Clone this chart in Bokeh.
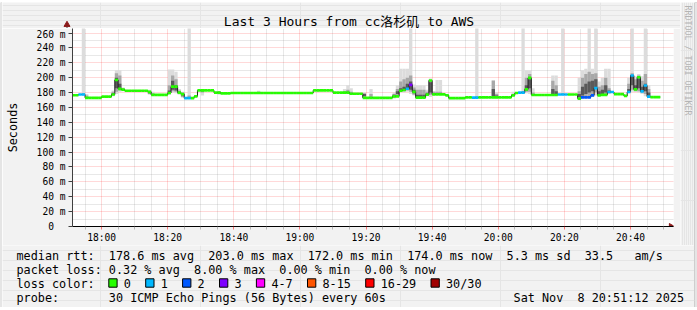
import numpy as np
from bokeh.plotting import figure
from bokeh.layouts import column, row
from bokeh.models import Range1d, FixedTicker, ColumnDataSource
from bokeh.core.properties import value
from bokeh.embed import file_html
from bokeh.resources import INLINE

# ---------------- data ----------------
# one sample per minute, time of sample in minutes after 18:00 (17:52 ... 20:49)
sample_minute = list(range(-8, 170))

median_ms = [
    176.5, 176.5, 177.5, 177.5, 173, 173, 173, 173, 173, 174.5,
    174.5, 174.5, 177.5, 197, 185, 184, 182.5, 182.5, 182.5, 182.5,
    182.5, 182.5, 182.5, 181, 177, 177, 177, 177, 177, 179.5,
    188, 188, 180, 178, 172.5, 172.5, 172.5, 175, 183, 183,
    183, 183, 183, 180, 180, 179, 179, 179, 179.5, 179.5,
    179.5, 179.5, 179.5, 179.5, 179.5, 179.5, 179.5, 179.5, 179.5, 179.5,
    179.5, 179.5, 179.5, 179.5, 179.5, 179.5, 179.5, 179.5, 179.5, 179.5,
    179.5, 179.5, 179.5, 183, 183, 183, 183, 183, 183, 180,
    180, 180, 180, 180, 178.5, 178.5, 178.5, 178.5, 173, 173,
    173, 173, 173, 173, 173, 173, 173, 175, 175, 182.5,
    183.5, 185.2, 190.5, 181, 173.2, 173.2, 173.2, 177.2, 196.3, 177.7,
    177.7, 177.7, 177.7, 176.4, 172.5, 172.5, 172.5, 172.5, 172.5, 173.5,
    173.5, 173.2, 173.2, 173.5, 173.5, 173.5, 173.5, 173.5, 173.5, 173.5,
    173.5, 173.5, 173.5, 176.4, 179.5, 180, 180, 184.3, 199.8, 176.8,
    176.8, 176.8, 176.8, 176.8, 176.8, 176.8, 176.8, 177.5, 177.5, 177.5,
    177.5, 177.5, 177.5, 172, 173.7, 173.7, 173.7, 176.4, 186, 176.4,
    177, 177, 180.8, 180.8, 178, 178, 178, 175.5, 180.8, 203,
    184.3, 200.7, 181.7, 189.6, 174.6, 174, 174, 174,
]

loss_count = [
    0, 0, 1, 1, 0, 0, 0, 0, 0, 0,
    0, 0, 0, 0, 0, 0, 0, 0, 0, 0,
    0, 0, 0, 0, 0, 0, 0, 0, 0, 0,
    0, 0, 0, 0, 1, 1, 0, 0, 0, 0,
    0, 0, 0, 0, 0, 0, 0, 0, 0, 0,
    0, 0, 0, 0, 0, 0, 0, 0, 0, 0,
    0, 0, 0, 0, 0, 0, 0, 0, 0, 0,
    0, 0, 0, 0, 0, 0, 0, 0, 0, 0,
    0, 0, 0, 0, 0, 0, 0, 0, 0, 0,
    0, 0, 0, 0, 0, 0, 0, 0, 0, 0,
    0, 1, 3, 0, 0, 0, 0, 0, 0, 0,
    0, 0, 0, 0, 0, 0, 0, 0, 0, 0,
    0, 1, 1, 0, 0, 0, 0, 0, 0, 0,
    0, 0, 0, 0, 0, 1, 1, 0, 0, 0,
    0, 0, 0, 0, 0, 0, 0, 1, 1, 1,
    0, 0, 0, 0, 2, 2, 2, 2, 1, 0,
    0, 0, 1, 1, 0, 0, 0, 0, 1, 1,
    0, 0, 1, 1, 1, 0, 0, 0,
]

# smoke: distribution of the 30 pings for minutes with visible spread
# (sample index, min, p10, p25, p75, p90, max) in ms; 300 = beyond the top
smoke_index = [3, 4, 12, 13, 14, 15, 23, 24, 29, 30, 31, 32, 33, 35, 39, 44, 56, 74,
               82, 83, 84, 88, 90, 97, 98, 99, 100, 101, 102, 103, 104, 105, 106, 107,
               108, 109, 110, 111, 122, 127, 128, 133, 136, 137, 138, 139, 145, 146, 148,
               153, 154, 155, 156, 157, 158, 159, 160, 161, 162, 168, 169, 170, 171, 172,
               173, 174]
smoke_min = [176, 172, 175, 178, 181, 182, 177, 176, 177, 180, 179, 177, 173, 172, 176, 177, 178, 181,
             178, 178, 177, 173, 172, 172, 174, 180, 180, 181, 178, 176, 172, 172, 172, 175,
             174, 176, 177, 177, 172, 172, 172, 175, 178, 179, 178, 176, 176, 176, 176,
             172, 172, 172, 172, 174, 176, 175, 176, 177, 178, 179, 181, 181, 180, 178,
             175, 173]
smoke_p10 = [176.5, 172.5, 176, 181, 183, 183, 178, 176.5, 178, 182, 181, 178, 174, 172.5, 180, 178, 179, 182,
             179, 179, 178, 174, 172.5, 173, 175, 182, 182, 183, 181, 177, 173, 173, 173, 176,
             177, 177, 177.5, 177.5, 172.5, 173, 173, 176, 179, 181, 181, 176.5, 177, 177, 177,
             173, 174, 174, 175, 177, 180, 176, 177, 178, 179, 180, 184, 182, 182, 180,
             178, 174]
smoke_p25 = [177, 173, 177, 186, 185, 183.5, 179, 177, 179, 184, 183, 179, 176, 173, 182, 179, 179.5, 182.5,
             179.5, 180, 178.5, 175, 173, 174, 178, 183, 183, 184, 184, 179, 174, 174, 174, 177,
             180, 177.5, 178, 178, 173, 175, 174, 176.5, 179.5, 183, 186, 177, 178, 178, 177.5,
             174, 176, 178, 180, 182, 186, 177, 178, 180, 180, 181, 190, 184, 186, 182,
             182, 175]
smoke_p75 = [178, 174, 179, 200, 192, 185, 181, 178, 183, 196, 190, 181, 179, 174, 184, 181, 180, 183.5,
             180.5, 181, 179, 178, 174, 177, 182, 186, 188, 192, 195, 184, 177, 177, 177, 179,
             194, 179, 179, 179, 174, 185, 176, 177, 181, 190, 198, 178, 185, 182, 178,
             178, 188, 192, 195, 196, 198, 182, 184, 190, 183, 185, 203, 190, 199, 188,
             192, 180]
smoke_p90 = [179, 176, 181, 206, 203, 186, 182, 179, 190, 203, 198, 183, 180, 176, 184.5, 181.5, 181, 184,
             182, 184, 181, 179, 178, 178, 185, 195, 198, 200, 203, 187, 184, 184, 184, 181,
             197, 181, 181, 181, 175, 196, 178, 178, 182, 200, 205, 180, 196, 190, 179,
             182, 200, 205, 208, 205, 206, 188, 190, 200, 186, 192, 206, 198, 203, 196,
             205, 185]
smoke_max = [300, 178, 183, 210, 210, 187, 184, 181, 211, 211, 208, 185, 181, 300, 185, 182, 182.5, 185,
             185, 190, 186, 180, 185, 180, 190, 212, 212, 212, 300, 191, 190, 190, 190, 184,
             199, 182, 197, 197, 300, 197, 180, 181, 300, 210, 210, 186, 203, 203, 300,
             200, 210, 212, 300, 212, 300, 195, 200, 212, 212, 200, 300, 202, 205, 202,
             300, 190]

loss_labels = ["0", "1", "2", "3", "4-7", "8-15", "16-29", "30/30"]
loss_low = [0, 1, 2, 3, 4, 8, 16, 30]
loss_colors = ["#26ff00", "#00b8ff", "#0059ff", "#7e00ff", "#ff00ff", "#ff5500", "#ff0000", "#a00000"]

y_tick_values = [0, 20, 40, 60, 80, 100, 120, 140, 160, 180, 200, 220, 240, 260]
y_tick_labels = ["0\u00a0\u00a0", "20 m", "40 m", "60 m", "80 m", "100 m", "120 m", "140 m",
                 "160 m", "180 m", "200 m", "220 m", "240 m", "260 m"]
x_tick_values = [0, 20, 40, 60, 80, 100, 120, 140, 160]
x_tick_labels = ["18:00", "18:20", "18:40", "19:00", "19:20", "19:40", "20:00", "20:20", "20:40"]

title_text = "Last 3 Hours from cc洛杉矶 to AWS"
y_label = "Seconds"
legend_rtt = "median rtt:  178.6 ms avg  203.0 ms max  172.0 ms min  174.0 ms now  5.3 ms sd  33.5   am/s"
legend_loss = "packet loss: 0.32 % avg  8.00 % max  0.00 % min  0.00 % now"
legend_color = "loss color:"
legend_probe = "probe:       30 ICMP Echo Pings (56 Bytes) every 60s"
legend_date = "Sat Nov  8 20:51:12 2025"
watermark = "RRDTOOL / TOBI OETIKER"

# ---------------- styling constants ----------------
MONO = "DejaVu Sans Mono"
BG = "#F2F2F2"
W, H = 697, 310
BASELINE_FIX = 0.25   # text glyphs land ~0.25 em below the requested baseline


def nb(s):
    return s.replace("  ", "\u00a0\u00a0")


def deco_fig(w, h, x0, y0, fill):
    """Figure whose data coordinates are page pixels (y = -page_y)."""
    f = figure(width=w, height=h, x_range=Range1d(x0, x0 + w), y_range=Range1d(-(y0 + h), -y0),
               min_border=0, toolbar_location=None, output_backend="svg",
               x_axis_location=None, y_axis_location=None, frame_align=False,
               background_fill_color=fill, border_fill_color=fill)
    f.outline_line_color = None
    return f


# ---------------- main chart ----------------
FRAME_L, FRAME_R = 67, 673          # page px
MAIN_X0, MAIN_W = 2, 678
MAIN_Y0, MAIN_H = 28, 217
PX_PER_MIN = 600 / 180.0
x_start = -8.8                       # 17:51:12
x_end = x_start + (FRAME_R - FRAME_L) / PX_PER_MIN

p = figure(width=MAIN_W, height=MAIN_H, output_backend="svg", toolbar_location=None,
           x_range=Range1d(x_start, x_end), y_range=Range1d(0, 266.2),
           min_border_left=FRAME_L - MAIN_X0, min_border_right=MAIN_X0 + MAIN_W - FRAME_R,
           min_border_top=0, min_border_bottom=MAIN_H - 200, frame_align=False,
           background_fill_color="white", border_fill_color=BG)
p.outline_line_color = None

xt = FixedTicker(ticks=x_tick_values,
                 minor_ticks=[m for m in range(-5, 171, 5) if m % 20 != 0])
yt = FixedTicker(ticks=y_tick_values, minor_ticks=[v for v in range(10, 266, 20)])
p.xaxis.ticker = xt
p.yaxis.ticker = yt
p.xgrid.ticker = xt
p.ygrid.ticker = yt
for g in (p.xgrid, p.ygrid):
    g.grid_line_color = "#ff0000"
    g.grid_line_alpha = 0.3
    g.grid_line_dash = "1 1"
    g.minor_grid_line_color = "#8f8f8f"
    g.minor_grid_line_alpha = 0.4
    g.minor_grid_line_dash = "1 1"

p.xaxis.major_label_overrides = dict(zip(x_tick_values, x_tick_labels))
p.yaxis.major_label_overrides = dict(zip(y_tick_values, y_tick_labels))
for ax in (p.xaxis, p.yaxis):
    ax.major_label_text_font = MONO
    ax.major_label_text_font_size = "9.6px"
    ax.major_label_text_color = "black"
    ax.major_tick_in = 0
    ax.minor_tick_in = 0
p.xaxis.axis_line_color = "black"
p.xaxis.major_tick_out = 3
p.xaxis.major_tick_line_color = "#ff0000"
p.xaxis.major_tick_line_alpha = 0.5
p.xaxis.minor_tick_out = 3
p.xaxis.minor_tick_line_color = "#8f8f8f"
p.xaxis.minor_tick_line_alpha = 0.6
p.xaxis.major_label_standoff = 2
p.yaxis.axis_line_color = "#404040"
p.yaxis.major_tick_out = 4
p.yaxis.major_tick_line_color = "#404040"
p.yaxis.minor_tick_out = 0
p.yaxis.major_label_standoff = 3
p.yaxis.axis_label = y_label
p.yaxis.axis_label_text_font = MONO
p.yaxis.axis_label_text_font_size = "11.8px"
p.yaxis.axis_label_text_font_style = "normal"
p.yaxis.axis_label_text_color = "black"
p.yaxis.axis_label_standoff = 14

# smoke
sm_right = [sample_minute[k] for k in smoke_index]
sm_left = [r - 1 for r in sm_right]
smoke = ColumnDataSource(dict(left=sm_left, right=sm_right, mn=smoke_min, p10=smoke_p10,
                              p25=smoke_p25, p75=smoke_p75, p90=smoke_p90, mx=smoke_max))
p.quad(left="left", right="right", bottom="mn", top="mx", source=smoke,
       fill_color="#dcdcdc", line_color=None)
p.quad(left="left", right="right", bottom="p10", top="p90", source=smoke,
       fill_color="#a8a8a8", line_color=None)
p.quad(left="left", right="right", bottom="p25", top="p75", source=smoke,
       fill_color="#5a5a5a", line_color=None)

# median: thin dark step line + loss coloured band
line_x, line_y = [], []
for t, m in zip(sample_minute, median_ms):
    line_x += [t - 1, t]
    line_y += [m, m]
p.line(line_x, line_y, line_color="#202020", line_width=1)


def loss_color(n):
    c = loss_colors[0]
    for lo, col in zip(loss_low, loss_colors):
        if n >= lo:
            c = col
    return c


HALF = 1.8
med = ColumnDataSource(dict(
    left=[t - 1 for t in sample_minute], right=sample_minute,
    bottom=[m - HALF for m in median_ms], top=[m + HALF for m in median_ms],
    color=[loss_color(n) for n in loss_count]))
p.quad(left="left", right="right", bottom="bottom", top="top", source=med,
       fill_color="color", line_color=None)

# x-axis arrow head at the end of the axis
p.scatter(x=[x_end - 2.4 / PX_PER_MIN], y=[0], marker="triangle", size=6, angle=-np.pi / 2,
          fill_color="#8b1a1a", line_color="#8b1a1a")

# ---------------- title strip ----------------
TITLE_PX = 13
t_fig = deco_fig(MAIN_W, MAIN_Y0 - 2, 2, 2, BG)
t_fig.text(x=[348.5], y=[-(24.2 - BASELINE_FIX * TITLE_PX)], text=[title_text],
           text_font=value("DejaVu Sans Mono, Noto Sans CJK SC"), text_font_size=f"{TITLE_PX}px",
           text_align="center", text_baseline="alphabetic", text_color="black")
t_fig.segment(x0=[FRAME_L - 0.5], y0=[-28], x1=[FRAME_L - 0.5], y1=[-24], line_color="#404040")
t_fig.scatter(x=[FRAME_L - 0.5], y=[-24.2], marker="triangle", size=6,
              fill_color="#8b1a1a", line_color="#8b1a1a")

# ---------------- watermark strip ----------------
WM_PX = 8.3
wm_fig = deco_fig(14, 243, 680, 2, BG)
wm_fig.text(x=[685.5 + BASELINE_FIX * WM_PX], y=[-5], text=[watermark], angle=-np.pi / 2,
            text_font=value(MONO), text_font_size=f"{WM_PX}px", text_color="#b4b4b4",
            text_align="left", text_baseline="alphabetic")

# ---------------- legend strip ----------------
LEG_PX = 11.8
lg = deco_fig(692, 62, 2, 245, BG)
CW = 7.1
X0 = 16
BASE = [258.3, 272.2, 286.1, 300.0]
ADJ = BASELINE_FIX * LEG_PX
lg.text(x=[X0] * 4, y=[-(b - ADJ) for b in BASE],
        text=[nb(legend_rtt), nb(legend_loss), nb(legend_color), nb(legend_probe)],
        text_font=value(MONO), text_font_size=f"{LEG_PX}px", text_color="black",
        text_align="left", text_baseline="alphabetic")
lg.text(x=[683.5], y=[-(BASE[3] - ADJ)], text=[nb(legend_date)],
        text_font=value(MONO), text_font_size=f"{LEG_PX}px", text_color="black",
        text_align="right", text_baseline="alphabetic")

box_x, lab_x = [], []
bx = X0 + 13 * CW
for lab in loss_labels:
    box_x.append(bx)
    lab_x.append(bx + 15)
    bx += 15 + len(lab) * CW + 14.8
lg.quad(left=box_x, right=[b + 8.3 for b in box_x], top=[-278.3] * len(box_x),
        bottom=[-286.7] * len(box_x), fill_color=loss_colors, line_color="black", line_width=1)
lg.text(x=lab_x, y=[-(BASE[2] - ADJ)] * len(lab_x), text=loss_labels,
        text_font=value(MONO), text_font_size=f"{LEG_PX}px", text_color="black",
        text_align="left", text_baseline="alphabetic")

# ---------------- 3d frame ----------------
top_shade = deco_fig(W, 2, 0, 0, "#cbcbcb")
left_shade = deco_fig(2, 305, 0, 2, "#cbcbcb")
right_shade = deco_fig(3, 305, 694, 2, "#9e9e9e")
bottom_shade = deco_fig(W, 3, 0, 307, "#9e9e9e")

upper = row(column(t_fig, p), wm_fig)
center = column(upper, lg)
layout = column(top_shade, row(left_shade, center, right_shade), bottom_shade)

open("out.html", "w").write(file_html(layout, INLINE))
